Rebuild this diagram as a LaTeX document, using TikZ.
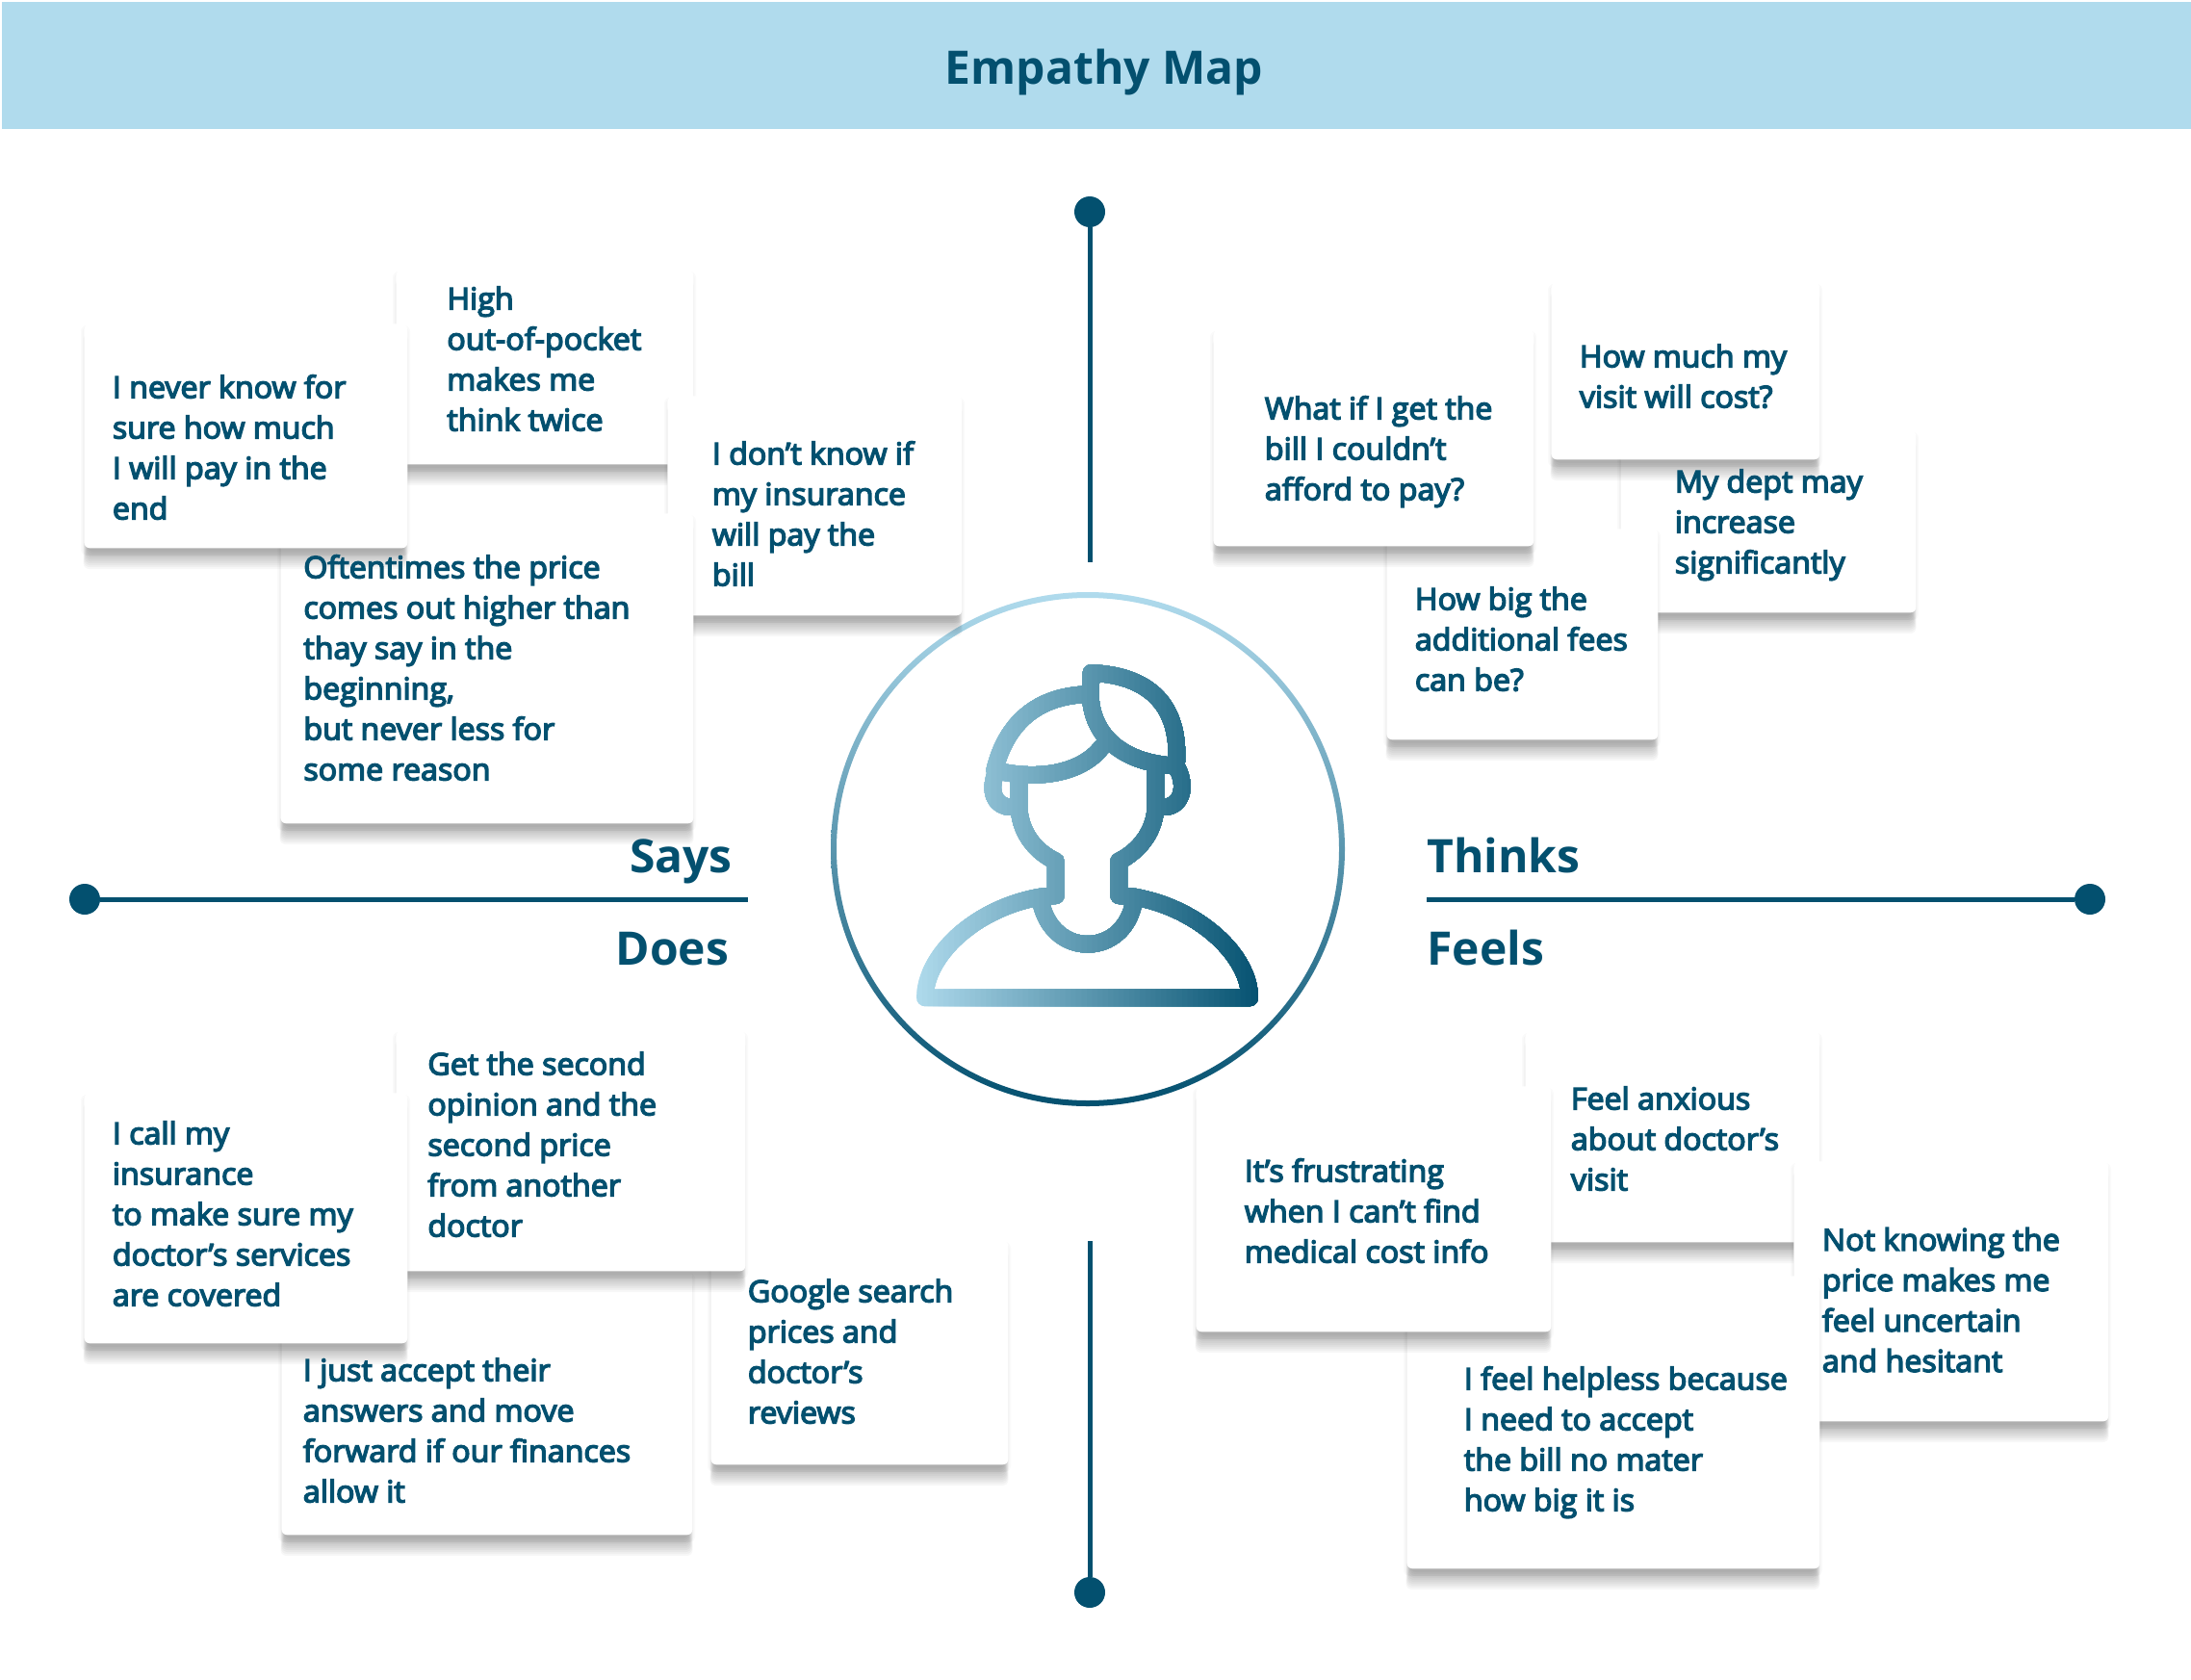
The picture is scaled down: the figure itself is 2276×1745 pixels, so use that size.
\documentclass[tikz,border=0pt]{standalone}
\usepackage{fontspec}
\setmainfont{Open Sans}
\newfontfamily\semib{Open Sans}[FakeBold=4.5,FakeStretch=1.025]
\usetikzlibrary{calc}
\definecolor{deep}{HTML}{03506F}
\definecolor{pale}{HTML}{B0DBED}
\tikzset{
  x=0.5pt,y=-0.5pt,
  cardbox/.style={fill=white,inner sep=0,anchor=north west,rounded corners=3pt},
  cardtext/.style={text=deep,inner sep=0,anchor=north west,align=left,font=\semib\fontsize{15.7}{21}\selectfont},
  axis/.style={draw=deep,line width=2.5pt},
  dot/.style={circle,fill=deep,inner sep=0,minimum size=16pt},
  head/.style={text=deep,inner sep=0,font=\bfseries\fontsize{24}{28}\selectfont},
  person/.style={line width=8.8pt,line join=round,line cap=round}
}
% \card{name}{x1}{y1}{x2}{y2}
\newcommand{\card}[5]{%
  \fill[black,opacity=0.018,rounded corners=3pt] ({#2-3},{#3+2}) rectangle ({#4+3},{#5+8});%
  \fill[black,opacity=0.02,rounded corners=3pt] ({#2-1.5},{#3+3}) rectangle ({#4+1.5},{#5+8});%
  \foreach \s in {0,1,...,9}{%
    \fill[black,opacity=0.033,rounded corners=3pt]
      ({#2+4-\s*0.5},{#3+10}) rectangle ({#4-4+\s*0.5},{#5+4+\s*2});}%
  \node[cardbox,minimum width={(#4-#2)*0.5pt},minimum height={(#5-#3)*0.5pt}] (#1) at (#2,#3) {};}
% \cardlabel{name}{x}{baseline}{text}
\newcommand{\cardlabel}[4]{\node[cardtext] (#1) at (#2,{#3-40}) {\rule{0pt}{20pt}#4};}
\newcommand{\personpath}{%
  (316,1200) .. controls (316,1080) and (450,945) .. (628,912) -- (671,908) -- (671,810)
  .. controls (610,780) and (571,720) .. (571,650) -- (571,570)
  (842,810) .. controls (900,780) and (942,720) .. (942,650) -- (942,540)
  (842,810) -- (842,908) -- (885,912) .. controls (1060,945) and (1197,1080) .. (1197,1200) -- (316,1200)
  (630,925) .. controls (645,1005) and (700,1047) .. (757,1047) .. controls (815,1047) and (870,1005) .. (883,925)
  (549,655) .. controls (505,655) and (487,610) .. (510,553)
  (965,655) .. controls (1010,655) and (1030,600) .. (998,538)
  (505,550) .. controls (620,580) and (740,560) .. (795,485)
  (505,550) .. controls (530,440) and (600,335) .. (765,333)
  (767,272) -- (765,340) .. controls (770,450) and (850,530) .. (998,538)
  .. controls (1010,380) and (940,280) .. (767,272)}
\begin{document}
\begin{tikzpicture}
\useasboundingbox (0,0) rectangle (2276,1745);
\fill[white] (0,0) rectangle (2276,1745);
\node[fill=pale,inner sep=0,anchor=north west,minimum width=1137pt,minimum height=66pt] (banner) at (2,2) {};
\node[head,anchor=base] (title) at (1147,87) {Empathy Map};

% axes
\node[dot] (dt) at (1132,220) {};
\coordinate (vt) at (1132,584);
\draw[axis] (dt) -- (vt);
\node[dot] (db) at (1132,1654) {};
\coordinate (vb) at (1132,1289);
\draw[axis] (db) -- (vb);
\node[dot] (dl) at (88,934) {};
\coordinate (hl) at (777,934);
\draw[axis] (dl) -- (hl);
\node[dot] (dr) at (2171,934) {};
\coordinate (hr) at (1482,934);
\draw[axis] (dr) -- (hr);

% circle
\shade[top color=pale,bottom color=deep,even odd rule] (1130,882) circle (133.5pt) (1130,882) circle (130.5pt);

% person, painted strip by strip for a stroke gradient
\begin{scope}[shift={(840,600)},x=0.19135pt,y=-0.18182pt]
\foreach \i in {0,...,66}{%
  \pgfmathsetmacro{\m}{100-\i*100/66}
  \colorlet{strip}{pale!\m!deep}
  \begin{scope}
    \clip ({280+\i*14.4},200) rectangle (1240,1260);
    \draw[person,draw=strip] \personpath;
  \end{scope}}
\end{scope}

% Says
\card{c1}{411}{280}{720}{482}
\card{c2}{693}{411}{999}{639}
\card{c3}{291}{533}{720}{855}
\card{c4}{87}{336}{423}{569}
\cardlabel{t1}{464}{321}{High\\out-of-pocket\\makes me\\think twice}
\cardlabel{t2}{739.5}{482}{I don’t know if\\my insurance\\will pay the\\bill}
\cardlabel{t3}{315}{600}{Oftentimes the price\\comes out higher than\\thay say in the\\beginning,\\but never less for\\some reason}
\cardlabel{t4}{116.5}{413}{I never know for\\sure how much\\I will pay in the\\end}

% Thinks
\card{c5}{1683}{447}{1990}{636}
\card{c6}{1611}{293}{1890}{477}
\card{c8}{1440}{549}{1722}{768}
\card{c7}{1260}{342}{1593}{567}
\cardlabel{t5}{1739.5}{511}{My dept may\\increase\\significantly}
\cardlabel{t6}{1640.5}{381}{How much my\\visit will cost?}
\cardlabel{t7}{1313.5}{435}{What if I get the\\bill I couldn’t\\afford to pay?}
\cardlabel{t8}{1469.5}{633}{How big the\\additional fees\\can be?}

% Does
\card{c9}{738}{1288}{1047}{1521}
\card{c10}{292}{1320}{719}{1594}
\card{c11}{411}{1070}{774}{1320}
\card{c12}{87}{1135}{423}{1395}
\cardlabel{t9}{776.5}{1352}{Google search\\prices and\\doctor’s\\reviews}
\cardlabel{t10}{314.5}{1434}{I just accept their\\answers and move\\forward if our finances\\allow it}
\cardlabel{t11}{444}{1116}{Get the second\\opinion and the\\second price\\from another\\doctor}
\cardlabel{t12}{116.5}{1188}{I call my\\insurance\\to make sure my\\doctor’s services\\are covered}

% Feels
\card{c13}{1584}{1071}{1890}{1290}
\card{c14}{1863}{1206}{2190}{1476}
\card{c15}{1461}{1325}{1890}{1629}
\card{c16}{1242}{1128}{1611}{1383}
\cardlabel{t13}{1631.5}{1152}{Feel anxious\\about doctor’s\\visit}
\cardlabel{t14}{1892.5}{1298.5}{Not knowing the\\price makes me\\feel uncertain\\and hesitant}
\cardlabel{t15}{1520.5}{1443}{I feel helpless because\\I need to accept\\the bill no mater\\how big it is}
\cardlabel{t16}{1292.5}{1227}{It’s frustrating\\when I can’t find\\medical cost info}

% quadrant headings
\node[head,anchor=base east] (says) at (761,906) {Says};
\node[head,anchor=base east] (does) at (757.5,1002) {Does};
\node[head,anchor=base west] (thinks) at (1482,906) {Thinks};
\node[head,anchor=base west] (feels) at (1482,1002) {Feels};
\end{tikzpicture}
\end{document}
